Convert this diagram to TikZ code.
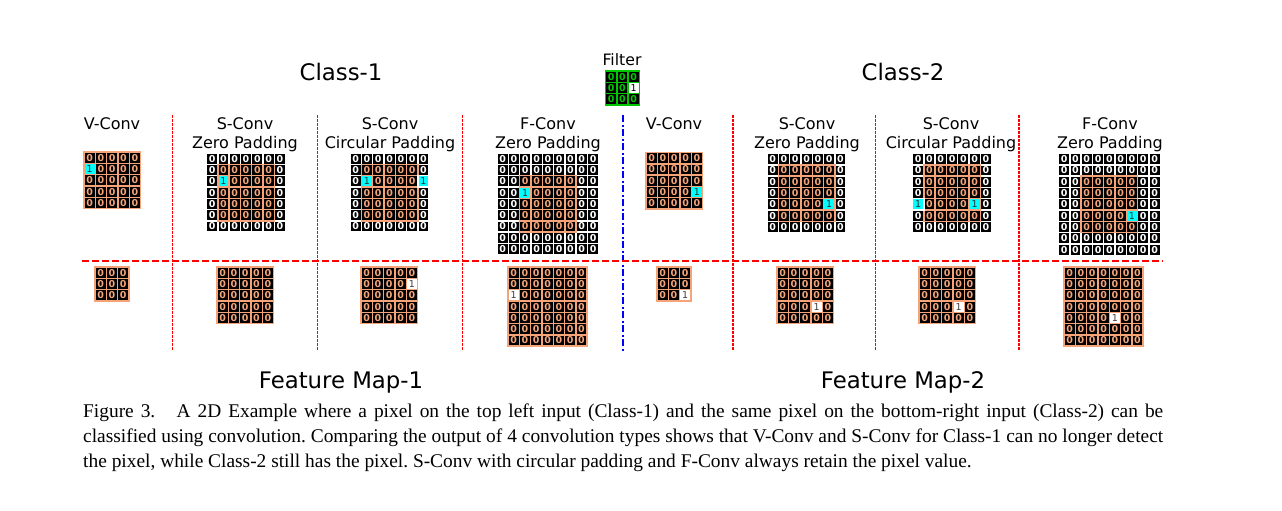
\documentclass[tikz,border=0pt]{standalone}
\usepackage{fontspec}
\setmainfont{DejaVu Sans}
\newfontfamily\capfont{Liberation Serif}
\definecolor{sal}{RGB}{244,164,120}
\definecolor{grn}{RGB}{0,200,0}
\definecolor{cyn}{RGB}{0,255,255}
\def\cs{11.3}
\tikzset{
 cellbase/.style={rectangle, minimum size=11.3pt, inner sep=0pt, outer sep=0pt, line width=1.4pt, font=\fontsize{9.5}{9.5}\selectfont\bfseries},
 padcell/.style={cellbase, fill=black, draw=white, text=white},
 incell/.style={cellbase, fill=black, draw=sal, text=sal},
 cyancell/.style={cellbase, fill=cyn, draw=sal, text=black!80, font=\fontsize{9.5}{9.5}\selectfont},
 cyanpad/.style={cyancell, draw=white},
 onecell/.style={cellbase, fill=white, draw=sal, text=black!75, font=\fontsize{9.5}{9.5}\selectfont},
 fcell/.style={cellbase, fill=black, draw=grn, text=grn},
 fone/.style={cellbase, fill=white, draw=grn, text=black, font=\fontsize{9.5}{9.5}\selectfont},
 big/.style={font=\fontsize{22.8}{26}\selectfont, inner sep=0pt, anchor=base},
 head/.style={font=\fontsize{16}{19}\selectfont, inner sep=0pt, anchor=base},
 capline/.style={anchor=base west, inner sep=0pt, font=\capfont\fontsize{19.4}{25}\selectfont\frenchspacing},
 vsep/.style={red, line width=1.1pt, dash pattern=on 2.5pt off 1.5pt},
 hsep/.style={red, line width=2pt, dash pattern=on 7pt off 3pt},
 bsep/.style={blue, line width=2pt, dash pattern=on 7pt off 2.5pt on 2pt off 2.5pt},
}
% #1 name, #2 x left, #3 y top, #4 size N, #5 padding P
\newcommand{\drawgrid}[5]{%
 \foreach \i in {1,...,#4}{\foreach \j in {1,...,#4}{%
   \pgfmathtruncatemacro{\ins}{(\i>#5)&&(\i<#4-#5+1)&&(\j>#5)&&(\j<#4-#5+1)}%
   \ifnum\ins=0 \node[padcell] (#1-\i-\j) at ({#2+(\j-0.5)*\cs},{#3+(\i-0.5)*\cs}) {0};\fi
 }}%
 \foreach \i in {1,...,#4}{\foreach \j in {1,...,#4}{%
   \pgfmathtruncatemacro{\ins}{(\i>#5)&&(\i<#4-#5+1)&&(\j>#5)&&(\j<#4-#5+1)}%
   \ifnum\ins=1 \node[incell] (#1-\i-\j) at ({#2+(\j-0.5)*\cs},{#3+(\i-0.5)*\cs}) {0};\fi
 }}%
}
% #1 x left, #2 y top, #3 row, #4 col, #5 style, #6 text
\newcommand{\spcell}[6]{\node[#5] at ({#1+(#4-0.5)*\cs},{#2+(#3-0.5)*\cs}) {#6};}
\begin{document}
\begin{tikzpicture}[x=1pt,y=-1pt]
\useasboundingbox (0,0) rectangle (1282,511);
% titles
\node[big] (c1) at (341,81) {Class-1};
\node[big] (c2) at (903,81) {Class-2};
\node[head, font=\fontsize{15.7}{18}\selectfont] (filt) at (622,66) {Filter};
\node[big] (fm1) at (341,388) {Feature Map-1};
\node[big] (fm2) at (903,388) {Feature Map-2};
% filter
\foreach \i in {1,2,3}{\foreach \j in {1,2,3}{
  \node[fcell] (f-\i-\j) at ({605.5+(\j-0.5)*\cs},{71+(\i-0.5)*\cs}) {0};}}
\spcell{605.5}{71}{2}{3}{fone}{1}
% headers
\node[head] (h1) at (112,129) {V-Conv};
\node[head] (h2a) at (245,129) {S-Conv};
\node[head] (h2b) at (245,148) {Zero Padding};
\node[head] (h3a) at (390,129) {S-Conv};
\node[head] (h3b) at (390,148) {Circular Padding};
\node[head] (h4a) at (548,129) {F-Conv};
\node[head] (h4b) at (548,148) {Zero Padding};
\node[head] (h5) at (674,129) {V-Conv};
\node[head] (h6a) at (807,129) {S-Conv};
\node[head] (h6b) at (807,148) {Zero Padding};
\node[head] (h7a) at (951,129) {S-Conv};
\node[head] (h7b) at (951,148) {Circular Padding};
\node[head] (h8a) at (1110,129) {F-Conv};
\node[head] (h8b) at (1110,148) {Zero Padding};
% separators
\foreach \x in {172.5,317.5,462.5,733,875.5,1019}{\draw[vsep] (\x,115) -- (\x,351);}
\draw[bsep] (622.5,115) -- (622.5,351);
\draw[hsep] (82,261) -- (1163,261);
% class-1 inputs
\drawgrid{a1}{84}{152}{5}{0}
\spcell{84}{152}{2}{1}{cyancell}{1}
\drawgrid{a2}{206.5}{153}{7}{1}
\spcell{206.5}{153}{3}{2}{cyancell}{1}
\drawgrid{a3}{350}{153}{7}{1}
\spcell{350}{153}{3}{2}{cyancell}{1}
\spcell{350}{153}{3}{7}{cyanpad}{1}
\drawgrid{a4}{497}{153}{9}{2}
\spcell{497}{153}{4}{3}{cyancell}{1}
% class-2 inputs
\drawgrid{b1}{646}{152.5}{5}{0}
\spcell{646}{152.5}{4}{5}{cyancell}{1}
\drawgrid{b2}{767}{153.5}{7}{1}
\spcell{767}{153.5}{5}{6}{cyancell}{1}
\drawgrid{b3}{912.5}{153.5}{7}{1}
\spcell{912.5}{153.5}{5}{6}{cyancell}{1}
\spcell{912.5}{153.5}{5}{1}{cyanpad}{1}
\drawgrid{b4}{1058.5}{153.5}{9}{2}
\spcell{1058.5}{153.5}{6}{7}{cyancell}{1}
% outputs class-1
\drawgrid{o1}{95}{267}{3}{0}
\drawgrid{o2}{217}{267}{5}{0}
\drawgrid{o3}{361}{267}{5}{0}
\spcell{361}{267}{2}{5}{onecell}{1}
\drawgrid{o4}{508}{267}{7}{0}
\spcell{508}{267}{3}{1}{onecell}{1}
% outputs class-2
\drawgrid{p1}{657}{267}{3}{0}
\spcell{657}{267}{3}{3}{onecell}{1}
\drawgrid{p2}{777}{267}{5}{0}
\spcell{777}{267}{4}{4}{onecell}{1}
\drawgrid{p3}{919}{267}{5}{0}
\spcell{919}{267}{4}{4}{onecell}{1}
\drawgrid{p4}{1064}{267}{7}{0}
\spcell{1064}{267}{5}{5}{onecell}{1}
% caption
\node[capline] (cap1) at (83,417)
 {\hbox to 1080pt{Figure 3.\hskip 1.1em A 2D Example where a pixel on the top left input (Class-1) and the same pixel on the bottom-right input (Class-2) can be}};
\node[capline] (cap2) at (83,442)
 {\hbox to 1080pt{classified using convolution. Comparing the output of 4 convolution types shows that V-Conv and S-Conv for Class-1 can no longer detect}};
\node[capline] (cap3) at (83,467)
 {the pixel, while Class-2 still has the pixel. S-Conv with circular padding and F-Conv always retain the pixel value.};
\end{tikzpicture}
\end{document}
